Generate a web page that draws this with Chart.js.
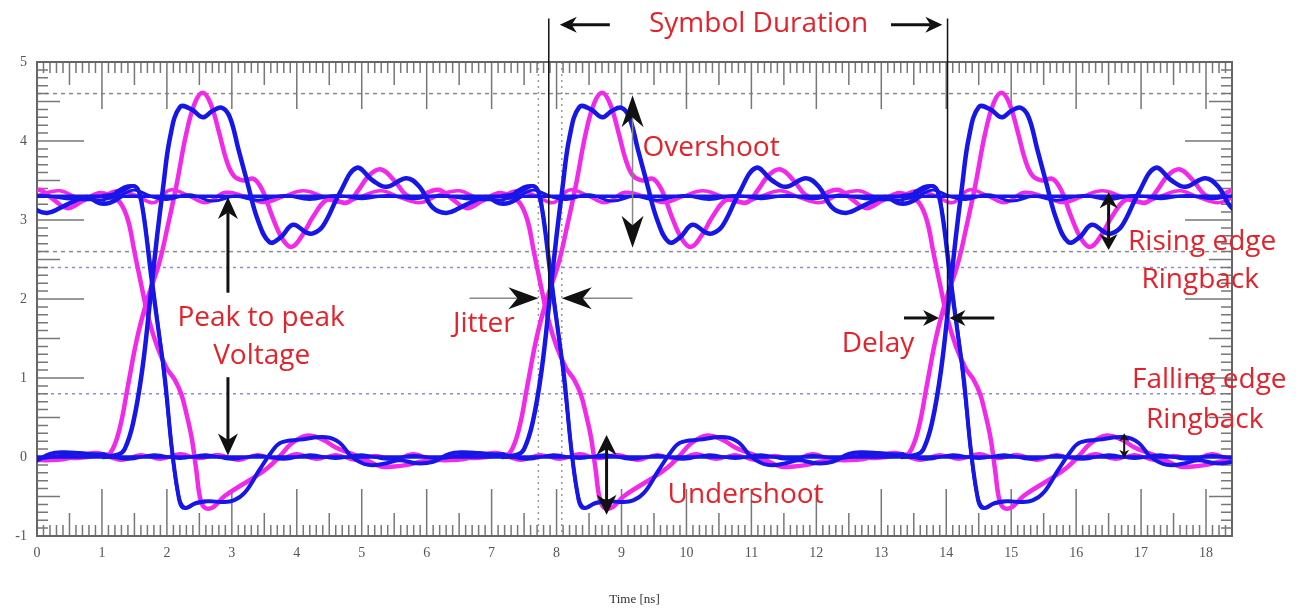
<!DOCTYPE html>
<html lang="en">
<head>
<meta charset="UTF-8" />
<title>Signal Integrity - Eye Overlay</title>
<script src="https://cdn.jsdelivr.net/npm/chart.js"></script>
<style>
  body { margin: 0; background: #fff; }
  canvas { display: block; }
</style>
</head>
<body>
<canvas id="eye" width="1301" height="611"></canvas>
<script>
// symbol edges repeat every ~6.15 ns; each shape below is one symbol
const edgeOffsets = [-6.15, 0, 6.15, 12.3];

// [time ns, volts]
const magRise = [[1.0,0.02],[1.13,0.05],[1.27,0.35],[1.4,0.9],[1.54,1.5],[1.7,2.0],[1.88,2.45],[2.02,2.95],[2.15,3.45],[2.3,4.1],[2.43,4.48],[2.55,4.61],[2.67,4.48],[2.8,4.12],[2.92,3.75],[3.03,3.56],[3.18,3.5],[3.34,3.52],[3.48,3.36],[3.62,3.05],[3.78,2.76],[3.92,2.66],[4.08,2.8],[4.25,3.04],[4.45,3.25],[4.62,3.24],[4.78,3.22],[4.95,3.38],[5.12,3.57],[5.3,3.64],[5.5,3.5],[5.68,3.32],[5.85,3.28],[6.05,3.36],[6.2,3.38],[6.4,3.26],[6.62,3.15],[6.85,3.24],[7.1,3.34],[7.25,3.32],[7.45,3.3]];
const magFall = [[1.0,3.3],[1.15,3.28],[1.28,3.22],[1.4,3.0],[1.5,2.6],[1.6,2.2],[1.72,1.75],[1.85,1.4],[2.0,1.12],[2.12,0.98],[2.22,0.8],[2.3,0.55],[2.38,0.25],[2.45,-0.15],[2.52,-0.55],[2.6,-0.65],[2.72,-0.63],[2.88,-0.5],[3.1,-0.38],[3.3,-0.28],[3.55,-0.14],[3.75,0.02],[3.92,0.17],[4.15,0.27],[4.4,0.22],[4.6,0.12],[4.85,0.04],[5.1,-0.05],[5.3,-0.12],[5.5,-0.12],[5.7,-0.1],[5.9,-0.06],[6.1,-0.04],[6.3,-0.04],[6.55,-0.03],[6.8,0.02],[7.05,0.05],[7.2,0.03],[7.4,0.0]];
const blueRise = [[1.0,0.0],[1.25,0.03],[1.35,0.1],[1.48,0.43],[1.62,1.1],[1.75,2.05],[1.85,2.8],[1.94,3.4],[2.05,4.05],[2.2,4.43],[2.38,4.4],[2.55,4.3],[2.7,4.38],[2.85,4.42],[2.97,4.3],[3.1,3.9],[3.24,3.47],[3.4,3.0],[3.58,2.72],[3.75,2.78],[3.94,2.94],[4.15,2.84],[4.25,2.83],[4.4,2.92],[4.66,3.34],[4.92,3.66],[5.17,3.5],[5.38,3.42],[5.69,3.53],[5.89,3.42],[6.09,3.16],[6.3,3.09],[6.5,3.15],[6.7,3.23],[6.92,3.29],[7.12,3.21],[7.28,3.22],[7.45,3.3]];
const blueFall = [[1.0,3.3],[1.2,3.33],[1.38,3.4],[1.5,3.43],[1.57,3.35],[1.65,3.0],[1.76,2.26],[1.87,1.6],[1.97,1.0],[2.07,0.15],[2.17,-0.45],[2.23,-0.63],[2.32,-0.64],[2.45,-0.58],[2.65,-0.56],[2.85,-0.57],[3.03,-0.55],[3.2,-0.45],[3.42,-0.17],[3.6,0.05],[3.75,0.18],[4.05,0.22],[4.45,0.25],[4.66,0.18],[4.85,0.0],[5.1,-0.1],[5.38,-0.08],[5.58,-0.04],[5.85,-0.08],[6.1,-0.06],[6.35,0.04],[6.55,0.06],[6.8,0.05],[7.05,0.03],[7.2,0.02],[7.4,0.0]];
const blueFallB = [[1.2,3.35],[1.4,3.43],[1.55,3.4],[1.63,3.15],[1.72,2.6],[1.82,1.95],[1.92,1.3],[2.02,0.55],[2.12,-0.2],[2.2,-0.55],[2.28,-0.64],[2.4,-0.6],[2.6,-0.56]];
const magRippleHi = [[1.0,3.3],[1.25,3.37],[1.55,3.3],[1.8,3.22],[2.05,3.38],[2.35,3.3],[2.6,3.22],[2.9,3.35],[3.2,3.3],[3.5,3.22],[3.8,3.3],[4.1,3.37],[4.4,3.3],[4.7,3.22],[5.0,3.3],[5.3,3.37],[5.6,3.28],[5.9,3.22],[6.2,3.32],[6.5,3.37],[6.8,3.28],[7.2,3.3]];
const blueRippleHi = [[1.0,3.25],[1.3,3.32],[1.5,3.38],[1.75,3.3],[2.0,3.26],[2.35,3.32],[2.7,3.24],[3.05,3.3],[3.4,3.25],[3.8,3.31],[4.2,3.26],[4.6,3.31],[5.0,3.27],[5.4,3.31],[5.8,3.27],[6.2,3.31],[6.6,3.27],[7.2,3.25]];
const magRippleLo = [[1.0,0.03],[1.3,-0.04],[1.6,0.03],[1.9,-0.03],[2.2,0.04],[2.5,-0.02],[2.8,0.03],[3.1,-0.04],[3.4,0.03],[3.7,-0.03],[4.0,0.04],[4.3,-0.03],[4.6,0.03],[4.9,-0.04],[5.2,0.02],[5.5,-0.03],[5.8,0.04],[6.1,-0.03],[6.4,0.03],[6.7,-0.02],[7.2,0.03]];
const blueRippleLo = [[1.0,0.04],[1.4,-0.03],[1.8,0.03],[2.2,-0.02],[2.6,0.03],[3.0,-0.03],[3.4,0.02],[3.8,-0.03],[4.2,0.03],[4.6,-0.02],[5.0,0.03],[5.4,-0.03],[5.8,0.02],[6.2,-0.02],[6.6,0.03],[7.2,0.04]];
const steadyLevels = [3.3, 0.0];

// reference levels / markers
const grayDashLevels = [4.6, 2.6];
const blueDotLevels = [2.4, 0.8];
const dotTimes = [7.72, 8.08];
const symbolMarks = [[7.88, 2.0], [14.02, 1.75]];

const MAG = '#f02ae8';
const BLUE = '#1616e8';

const traces = [
  { shape: magRippleHi, color: MAG, width: 3.5, order: 2 },
  { shape: magRippleLo, color: MAG, width: 3.5, order: 2 },
  { shape: magRise, color: MAG, width: 4.5, order: 2 },
  { shape: magFall, color: MAG, width: 4.5, order: 2 },
  { shape: blueRippleHi, color: BLUE, width: 3, order: 1 },
  { shape: blueRippleLo, color: BLUE, width: 3, order: 1 },
  { shape: blueRise, color: BLUE, width: 4.5, order: 1 },
  { shape: blueFall, color: BLUE, width: 4, order: 1 },
  { shape: blueFallB, color: BLUE, width: 3.5, order: 1 }
];

const datasets = [];
traces.forEach(tr => {
  edgeOffsets.forEach(off => {
    datasets.push({
      data: tr.shape.map(p => ({ x: p[0] + off, y: p[1] })),
      borderColor: tr.color,
      borderWidth: tr.width,
      order: tr.order,
      pointRadius: 0,
      tension: 0.4,
      fill: false,
      clip: 0
    });
  });
});
steadyLevels.forEach(v => {
  datasets.push({
    data: [{ x: 0, y: v }, { x: 18.4, y: v }],
    borderColor: BLUE, borderWidth: 3.5, order: 0, pointRadius: 0, clip: 0
  });
});

// annotation text and arrows, in data units
const labels = [
  ['Symbol Duration', 11.11, 5.48],
  ['Overshoot', 10.38, 3.91],
  ['Rising edge', 17.94, 2.72],
  ['Ringback', 17.91, 2.24],
  ['Peak to peak', 3.45, 1.76],
  ['Voltage', 3.46, 1.28],
  ['Jitter', 6.88, 1.68],
  ['Delay', 12.95, 1.43],
  ['Falling edge', 18.05, 0.97],
  ['Ringback', 17.98, 0.47],
  ['Undershoot', 10.91, -0.48]
];
const arrows = [
  { a: [8.82, 5.47], b: [8.05, 5.47], head: 17, hw: 8, lw: 3 },
  { a: [13.15, 5.47], b: [13.94, 5.47], head: 17, hw: 8, lw: 3 },
  { a: [2.94, 2.08], b: [2.94, 3.29], head: 22, hw: 10, lw: 3 },
  { a: [2.94, 1.01], b: [2.94, 0.02], head: 22, hw: 10, lw: 3 },
  { a: [6.66, 2.01], b: [7.72, 2.01], head: 30, hw: 11, lw: 1.5, line: '#888' },
  { a: [9.17, 2.01], b: [8.08, 2.01], head: 30, hw: 11, lw: 1.5, line: '#888' },
  { a: [9.17, 2.65], b: [9.17, 4.58], head: 32, hw: 11, lw: 1.5, line: '#888', both: true },
  { a: [8.77, -0.73], b: [8.77, 0.28], head: 20, hw: 10, lw: 3, both: true },
  { a: [13.35, 1.76], b: [13.89, 1.76], head: 16, hw: 8, lw: 3 },
  { a: [14.74, 1.76], b: [14.05, 1.76], head: 16, hw: 8, lw: 3 },
  { a: [16.5, 2.62], b: [16.5, 3.35], head: 16, hw: 9, lw: 3, both: true },
  { a: [16.74, -0.01], b: [16.74, 0.3], head: 8, hw: 5, lw: 2, both: true }
];

function arrowHead(ctx, tx, ty, dx, dy, head, hw) {
  const nx = -dy, ny = dx;
  ctx.beginPath();
  ctx.moveTo(tx, ty);
  ctx.lineTo(tx - dx * head + nx * hw, ty - dy * head + ny * hw);
  ctx.lineTo(tx - dx * head * 0.7, ty - dy * head * 0.7);
  ctx.lineTo(tx - dx * head - nx * hw, ty - dy * head - ny * hw);
  ctx.closePath();
  ctx.fill();
}

const framePlugin = {
  id: 'frame',
  beforeDatasetsDraw(chart) {
    const { ctx, chartArea: ca, scales: { x, y } } = chart;
    ctx.save();
    // reference levels
    ctx.lineWidth = 1.5;
    ctx.setLineDash([4, 4]);
    ctx.strokeStyle = '#8a8a8a';
    grayDashLevels.forEach(v => {
      const py = y.getPixelForValue(v);
      ctx.beginPath(); ctx.moveTo(ca.left, py); ctx.lineTo(ca.right, py); ctx.stroke();
    });
    ctx.strokeStyle = '#8c8cd8';
    ctx.setLineDash([3, 4]);
    blueDotLevels.forEach(v => {
      const py = y.getPixelForValue(v);
      ctx.beginPath(); ctx.moveTo(ca.left, py); ctx.lineTo(ca.right, py); ctx.stroke();
    });
    ctx.strokeStyle = '#999';
    ctx.setLineDash([2, 4]);
    dotTimes.forEach(t => {
      const px = x.getPixelForValue(t);
      ctx.beginPath(); ctx.moveTo(px, ca.top); ctx.lineTo(px, ca.bottom); ctx.stroke();
    });
    ctx.setLineDash([]);
    // ruler ticks along the frame
    ctx.strokeStyle = '#777';
    ctx.lineWidth = 1.5;
    for (let i = 0; i <= 184; i++) {
      const px = x.getPixelForValue(i / 10);
      const len = i % 10 === 0 ? 47 : (i % 5 === 0 ? 23 : 11);
      ctx.beginPath();
      ctx.moveTo(px, ca.top); ctx.lineTo(px, ca.top + len);
      ctx.moveTo(px, ca.bottom); ctx.lineTo(px, ca.bottom - len);
      ctx.stroke();
    }
    for (let i = -10; i <= 50; i++) {
      const py = y.getPixelForValue(i / 10);
      const len = i % 10 === 0 ? 47 : (i % 5 === 0 ? 23 : 11);
      ctx.beginPath();
      ctx.moveTo(ca.left, py); ctx.lineTo(ca.left + len, py);
      ctx.moveTo(ca.right, py); ctx.lineTo(ca.right - len, py);
      ctx.stroke();
    }
    ctx.strokeStyle = '#666';
    ctx.lineWidth = 2;
    ctx.strokeRect(ca.left, ca.top, ca.right - ca.left, ca.bottom - ca.top);
    ctx.restore();
  },
  afterDraw(chart) {
    const { ctx, scales: { x, y } } = chart;
    ctx.save();
    // symbol boundary markers
    ctx.strokeStyle = '#111';
    ctx.lineWidth = 1.5;
    symbolMarks.forEach(([t, low]) => {
      const px = x.getPixelForValue(t);
      ctx.beginPath();
      ctx.moveTo(px, y.getPixelForValue(5.55));
      ctx.lineTo(px, y.getPixelForValue(low));
      ctx.stroke();
    });
    // arrows
    arrows.forEach(ar => {
      const x1 = x.getPixelForValue(ar.a[0]), y1 = y.getPixelForValue(ar.a[1]);
      const x2 = x.getPixelForValue(ar.b[0]), y2 = y.getPixelForValue(ar.b[1]);
      const L = Math.hypot(x2 - x1, y2 - y1);
      const dx = (x2 - x1) / L, dy = (y2 - y1) / L;
      const s = ar.both ? ar.head * 0.7 : 0;
      ctx.strokeStyle = ar.line || '#111';
      ctx.lineWidth = ar.lw;
      ctx.beginPath();
      ctx.moveTo(x1 + dx * s, y1 + dy * s);
      ctx.lineTo(x2 - dx * ar.head * 0.7, y2 - dy * ar.head * 0.7);
      ctx.stroke();
      ctx.fillStyle = '#111';
      arrowHead(ctx, x2, y2, dx, dy, ar.head, ar.hw);
      if (ar.both) arrowHead(ctx, x1, y1, -dx, -dy, ar.head, ar.hw);
    });
    // red labels
    ctx.fillStyle = '#e3232b';
    ctx.font = '28px "Open Sans"';
    ctx.textAlign = 'center';
    ctx.textBaseline = 'middle';
    labels.forEach(([txt, t, v]) => {
      ctx.fillText(txt, x.getPixelForValue(t), y.getPixelForValue(v));
    });
    ctx.restore();
  }
};

const tickFont = { family: '"Liberation Serif", "DejaVu Serif", serif', size: 14 };

new Chart(document.getElementById('eye'), {
  type: 'line',
  data: { datasets },
  options: {
    responsive: false,
    animation: false,
    events: [],
    layout: { padding: { top: 62, right: 69, left: 0, bottom: 0 } },
    plugins: { legend: { display: false }, tooltip: { enabled: false } },
    scales: {
      x: {
        type: 'linear', min: 0, max: 18.4,
        grid: { display: false, drawTicks: false },
        border: { display: false },
        ticks: { stepSize: 1, includeBounds: false, padding: 9, color: '#555', font: tickFont, maxRotation: 0, autoSkip: false },
        title: { display: true, text: 'Time [ns]', color: '#333', font: { family: '"Liberation Serif", serif', size: 13 }, padding: { top: 4, bottom: 4 } },
        afterFit: s => { s.height = 75; }
      },
      y: {
        min: -1, max: 5,
        grid: { display: false, drawTicks: false },
        border: { display: false },
        ticks: { stepSize: 1, padding: 10, color: '#555', font: tickFont },
        afterFit: s => { s.width = 37; }
      }
    }
  },
  plugins: [framePlugin]
});
</script>
</body>
</html>
